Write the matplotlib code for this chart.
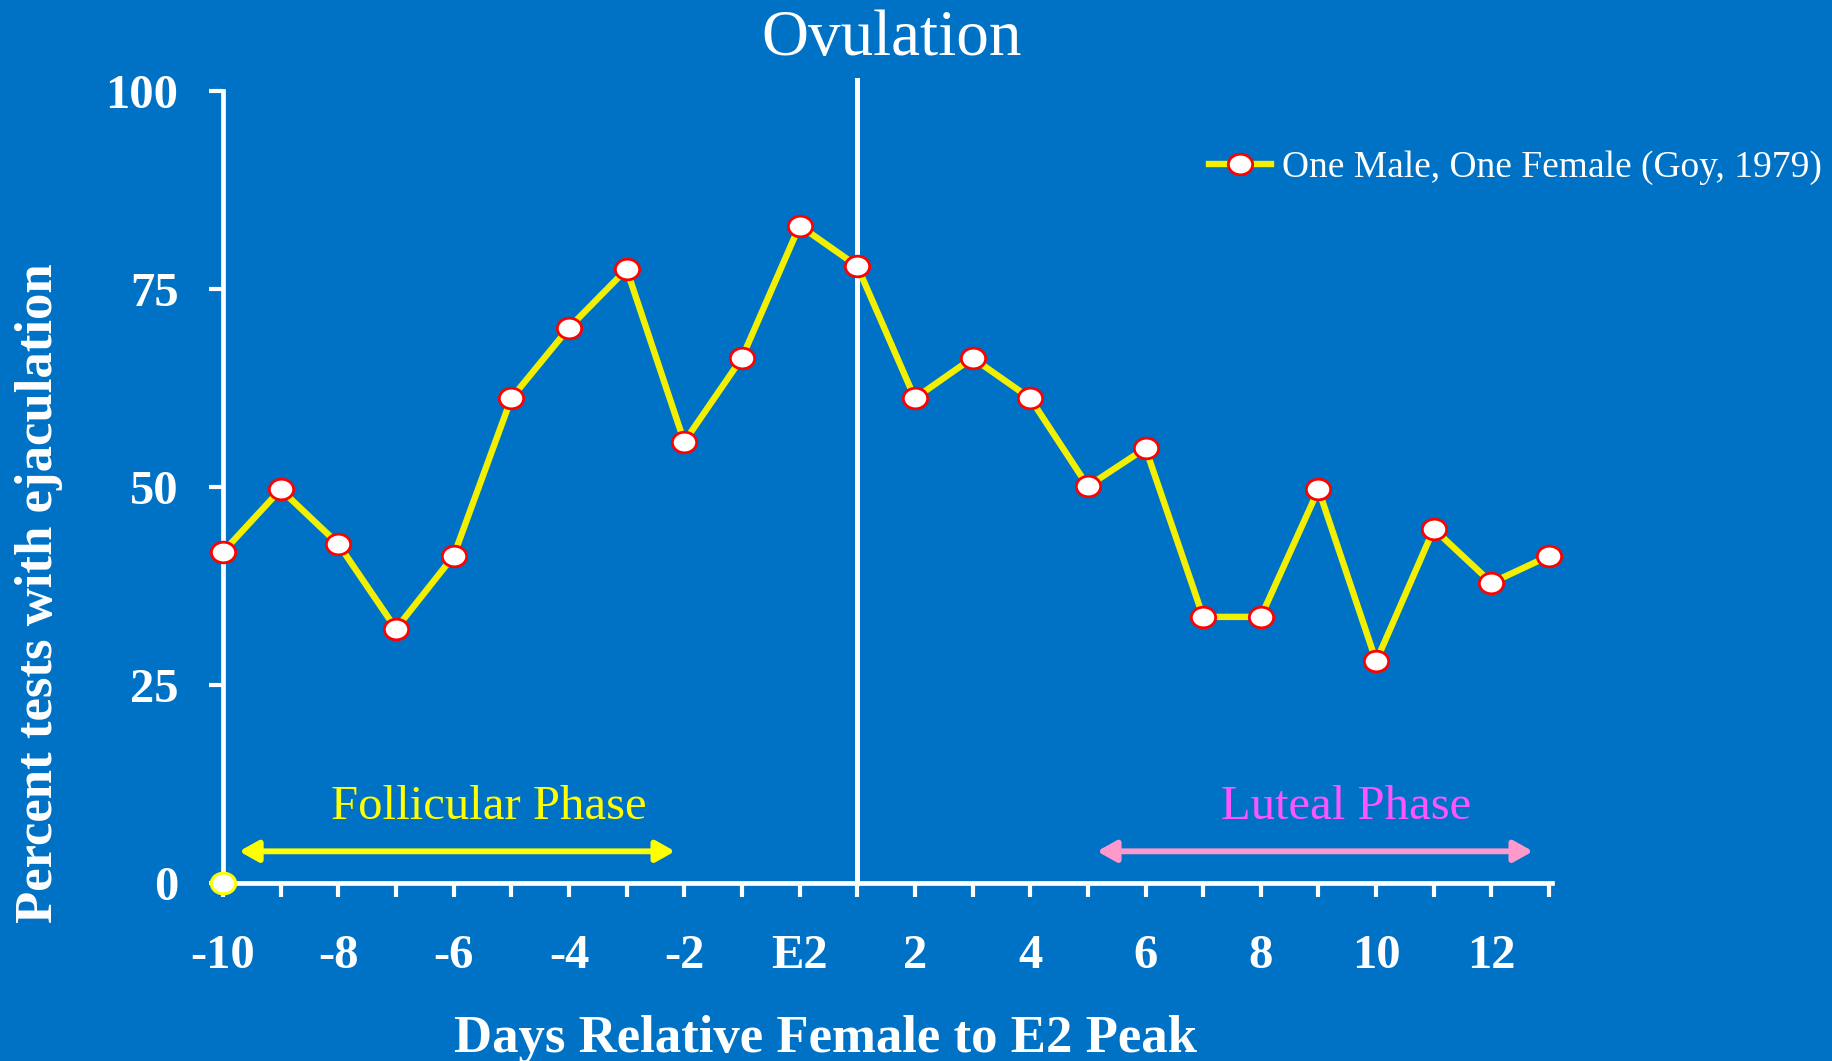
import matplotlib
matplotlib.use('Agg')
import matplotlib.pyplot as plt
from matplotlib.path import Path
from matplotlib.patches import ArrowStyle

# ---------------- data ----------------
days = list(range(-10, 14))
pct_ejac = [41.8, 49.7, 42.8, 32.1, 41.3, 61.2, 70.1, 77.5, 55.7, 66.3, 83.0, 77.9,
            61.2, 66.3, 61.2, 50.1, 54.9, 33.6, 33.6, 49.7, 28.0, 44.7, 37.9, 41.3]
x_tick_pos = [-10, -8, -6, -4, -2, 0, 2, 4, 6, 8, 10, 12]
x_tick_labels = ['-10', '-8', '-6', '-4', '-2', 'E2', '2', '4', '6', '8', '10', '12']
y_ticks = [0, 25, 50, 75, 100]
ovulation_day = 1
follicular_span = (-9.72, -2.16)
luteal_span = (5.16, 12.72)
phase_arrow_y = 4.0
series_label = 'One Male, One Female (Goy, 1979)'

# ---------------- style ----------------
BG = '#0072C6'
W, H = 1832, 1061
SERIF = ['Liberation Serif', 'DejaVu Serif']
plt.rcParams['font.family'] = SERIF

circ = Path.unit_circle()
ellipse = Path(circ.vertices * [1.0, 0.85], circ.codes)

fig = plt.figure(figsize=(W / 100, H / 100), dpi=100, facecolor=BG)
ax = fig.add_axes([223 / W, (H - 883) / H, (1552 - 223) / W, (883 - 91) / H],
                  facecolor=BG)
ax.set_xlim(-10, 13.05)
ax.set_ylim(0, 100)

for s in ('top', 'right'):
    ax.spines[s].set_visible(False)
for s in ('left', 'bottom'):
    ax.spines[s].set_color('white')
    ax.spines[s].set_linewidth(3.4)

ax.set_xticks(days, minor=False)
ax.set_xticklabels([x_tick_labels[x_tick_pos.index(d)] if d in x_tick_pos else ''
                    for d in days])
ax.set_yticks(y_ticks)
ax.set_yticklabels([str(v) for v in y_ticks])
ax.tick_params(axis='x', direction='out', length=10, width=3, color='white',
               labelcolor='white', labelsize=35, pad=27)
ax.tick_params(axis='y', direction='out', length=10, width=3, color='white',
               labelcolor='white', labelsize=35, pad=22)
for lab in ax.get_xticklabels() + ax.get_yticklabels():
    lab.set_fontweight('bold')

# ovulation line
ax.plot([ovulation_day, ovulation_day], [0, 101.4], color='white', lw=3.6,
        clip_on=False, zorder=3)

# data series
ax.plot(days, pct_ejac, color='#F2F000', lw=4.6, marker=ellipse, ms=17.5,
        mfc='white', mec='#FF0000', mew=2.0, zorder=5, clip_on=False,
        label=series_label)

# origin marker
ax.plot([days[0]], [0], linestyle='none', marker=ellipse, ms=17.5, mfc='white',
        mec='#FFFF00', mew=2.2, zorder=6, clip_on=False)

# phase arrows
style = ArrowStyle('<|-|>', head_length=0.75, head_width=0.42)
ax.annotate('', xy=(follicular_span[1], phase_arrow_y),
            xytext=(follicular_span[0], phase_arrow_y),
            arrowprops=dict(arrowstyle=style, color='#FFFF00', lw=4.2,
                            mutation_scale=15, shrinkA=0, shrinkB=0))
ax.annotate('', xy=(luteal_span[1], phase_arrow_y),
            xytext=(luteal_span[0], phase_arrow_y),
            arrowprops=dict(arrowstyle=style, color='#FF99CC', lw=4.2,
                            mutation_scale=15, shrinkA=0, shrinkB=0))

# phase texts
fig.text(489 / W, 1 - 819 / H, 'Follicular Phase', color='#FFFF00', fontsize=35,
         ha='center', va='baseline')
fig.text(1346 / W, 1 - 819 / H, 'Luteal Phase', color='#FF55FF', fontsize=35,
         ha='center', va='baseline')

# title and axis labels
fig.text(892 / W, 1 - 55 / H, 'Ovulation', color='white', fontsize=47,
         ha='center', va='baseline')
fig.text(825 / W, 1 - 1052 / H, 'Days Relative Female to E2 Peak', color='white',
         fontsize=38, fontweight='bold', ha='center', va='baseline')
fig.text(52 / W, 1 - 593 / H, 'Percent tests with ejaculation', color='white',
         fontsize=38, fontweight='bold', rotation=90, rotation_mode='anchor',
         ha='center', va='baseline')

# legend
leg = ax.legend(loc='center left', bbox_to_anchor=(1209 / W, 1 - 168 / H),
                bbox_transform=fig.transFigure, frameon=False, fontsize=27,
                handlelength=1.65, handletextpad=0.3, borderpad=0,
                borderaxespad=0, numpoints=1)
for t in leg.get_texts():
    t.set_color('white')

fig.savefig('out.png', dpi=100, facecolor=BG)
